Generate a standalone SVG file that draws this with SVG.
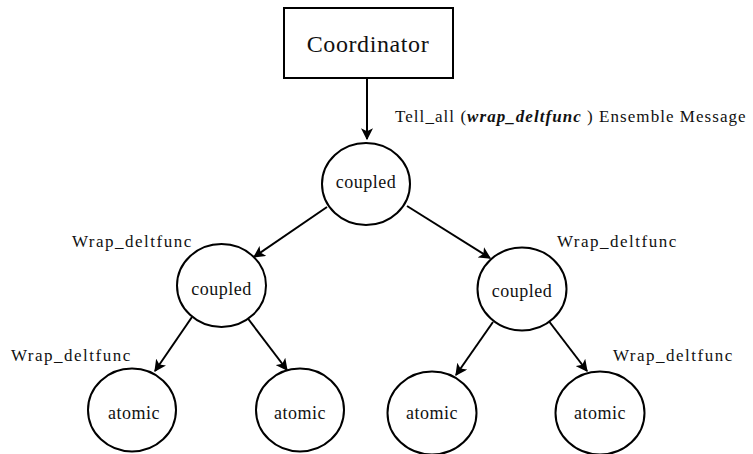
<svg xmlns="http://www.w3.org/2000/svg" width="753" height="454" viewBox="0 0 753 454">
  <style>
    .shape { fill: #ffffff; stroke: #000000; stroke-width: 2; }
    .edge { fill: none; stroke: #000000; stroke-width: 2; }
    .node-text { font-family: "Liberation Serif", "Times New Roman", serif; font-size: 18px; letter-spacing: 0.5px; fill: #111111; text-anchor: middle; }
    .title { font-family: "Liberation Serif", "Times New Roman", serif; font-size: 24px; letter-spacing: 0.6px; fill: #111111; text-anchor: middle; }
    .label { font-family: "Liberation Serif", "Times New Roman", serif; font-size: 17px; letter-spacing: 1.5px; fill: #111111; }
    .msg { font-family: "Liberation Serif", "Times New Roman", serif; font-size: 17px; letter-spacing: 1.05px; fill: #111111; }
  </style>
  <defs>
    <marker id="arrow" viewBox="0 0 10 10" refX="9" refY="5" markerWidth="6" markerHeight="6" markerUnits="strokeWidth" orient="auto">
      <path d="M0,0 L10,5 L0,10 L2.5,5 Z" fill="#000000"/>
    </marker>
  </defs>

  <!-- connectors -->
  <g id="connectors">
    <line class="edge" x1="367" y1="78" x2="367" y2="139" marker-end="url(#arrow)"/>
    <line class="edge" x1="327" y1="207" x2="254" y2="257" marker-end="url(#arrow)"/>
    <line class="edge" x1="407" y1="206" x2="490" y2="258" marker-end="url(#arrow)"/>
    <line class="edge" x1="192" y1="317" x2="155" y2="371" marker-end="url(#arrow)"/>
    <line class="edge" x1="246" y1="316" x2="287" y2="370" marker-end="url(#arrow)"/>
    <line class="edge" x1="493" y1="322" x2="456" y2="375" marker-end="url(#arrow)"/>
    <line class="edge" x1="548" y1="320" x2="587" y2="371" marker-end="url(#arrow)"/>
  </g>

  <!-- edge labels -->
  <g id="labels">
    <text class="msg" x="395" y="122">Tell_all (<tspan font-weight="bold" font-style="italic">wrap_deltfunc</tspan> ) Ensemble Message</text>
    <text class="label" x="72" y="247">Wrap_deltfunc</text>
    <text class="label" x="557" y="247">Wrap_deltfunc</text>
    <text class="label" x="11" y="361">Wrap_deltfunc</text>
    <text class="label" x="613" y="361">Wrap_deltfunc</text>
  </g>

  <g id="coordinator">
    <rect class="shape" x="284" y="8" width="169" height="70"/>
    <text class="title" x="368" y="52">Coordinator</text>
  </g>

  <g id="coupled-root">
    <ellipse class="shape" cx="366" cy="184" rx="44" ry="41"/>
    <text class="node-text" x="366" y="188">coupled</text>
  </g>

  <g id="coupled-left">
    <ellipse class="shape" cx="221.5" cy="285.5" rx="44.5" ry="41.5"/>
    <text class="node-text" x="221.5" y="295">coupled</text>
  </g>

  <g id="coupled-right">
    <ellipse class="shape" cx="522" cy="289" rx="44.5" ry="41.5"/>
    <text class="node-text" x="522" y="297">coupled</text>
  </g>

  <g id="atomic-1">
    <ellipse class="shape" cx="132" cy="410" rx="44" ry="41.5"/>
    <text class="node-text" x="134" y="419">atomic</text>
  </g>

  <g id="atomic-2">
    <ellipse class="shape" cx="300" cy="410" rx="44" ry="41.5"/>
    <text class="node-text" x="300" y="419">atomic</text>
  </g>

  <g id="atomic-3">
    <ellipse class="shape" cx="432" cy="413" rx="44.5" ry="41.5"/>
    <text class="node-text" x="432" y="419">atomic</text>
  </g>

  <g id="atomic-4">
    <ellipse class="shape" cx="600" cy="413" rx="44.5" ry="41.5"/>
    <text class="node-text" x="600" y="419">atomic</text>
  </g>
</svg>
